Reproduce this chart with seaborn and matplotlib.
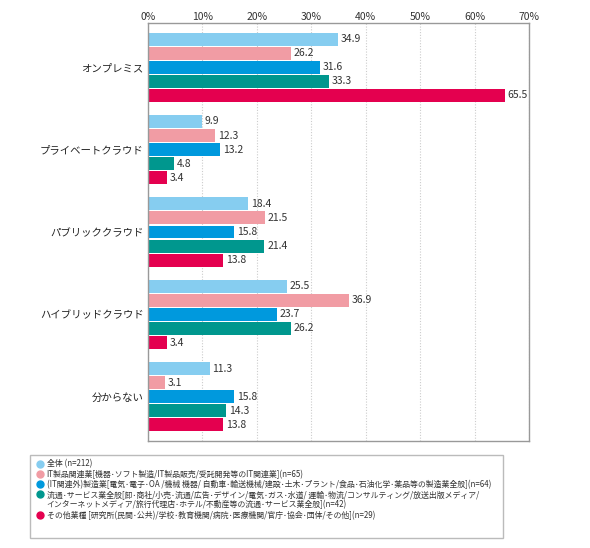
import matplotlib
matplotlib.use("Agg")
import matplotlib.pyplot as plt
from matplotlib.lines import Line2D
from matplotlib.patches import Rectangle
import seaborn as sns
import pandas as pd

categories = ["オンプレミス", "プライベートクラウド", "パブリッククラウド", "ハイブリッドクラウド", "分からない"]
series_names = [
    "全体 (n=212)",
    "IT製品関連業[機器･ソフト製造/IT製品販売/受託開発等のIT関連業](n=65)",
    "(IT関連外)製造業[電気･電子･OA /機械 機器/ 自動車･輸送機械/建設･土木･プラント/食品･石油化学･薬品等の製造業全般](n=64)",
    "流通･サービス業全般[卸･商社/小売･流通/広告･デザイン/電気･ガス･水道/ 運輸･物流/コンサルティング/放送出版メディア/\nインターネットメディア/旅行代理店･ホテル/不動産等の流通･サービス業全般](n=42)",
    "その他業種 [研究所(民間･公共)/学校･教育機関/病院･医療機関/官庁･協会･団体/その他](n=29)",
]
s_all = [34.9, 9.9, 18.4, 25.5, 11.3]
s_it = [26.2, 12.3, 21.5, 36.9, 3.1]
s_mfg = [31.6, 13.2, 15.8, 23.7, 15.8]
s_dist = [33.3, 4.8, 21.4, 26.2, 14.3]
s_other = [65.5, 3.4, 13.8, 3.4, 13.8]
x_ticks = [0, 10, 20, 30, 40, 50, 60, 70]
x_ticklabels = ["0%", "10%", "20%", "30%", "40%", "50%", "60%", "70%"]

colors = ["#86CDF0", "#F19CA4", "#0099DD", "#00978E", "#E4004F"]

series_values = [s_all, s_it, s_mfg, s_dist, s_other]
rows = []
for name, vals in zip(series_names, series_values):
    for c, v in zip(categories, vals):
        rows.append({"cat": c, "series": name, "value": v})
df = pd.DataFrame(rows)

sns.set_style("white")
plt.rcParams['font.family'] = ['Noto Sans CJK JP', 'DejaVu Sans']

fig = plt.figure(figsize=(5.9, 5.48), dpi=100)
ax = fig.add_axes([148/590, 1 - 441/548, (529-148)/590, (441-23)/548])

sns.barplot(data=df, y="cat", x="value", hue="series", order=categories,
            hue_order=series_names, palette=colors, orient="h",
            width=0.856, gap=0.08, legend=False, ax=ax, saturation=1,
            linewidth=0, edgecolor="none")

for cont in ax.containers:
    ax.bar_label(cont, fmt="%.1f", padding=2, fontsize=7.5, color="#333333")

ax.set_xlim(0, 70)
ax.set_ylim(4.537, -0.537)
ax.set_xticks(x_ticks)
ax.set_xticklabels(x_ticklabels)
ax.xaxis.tick_top()
ax.tick_params(axis="x", length=0, labelsize=7.5, colors="#333333", pad=1)
ax.tick_params(axis="y", length=0, labelsize=7.5, colors="#222222", pad=3)
ax.set_xlabel("")
ax.set_ylabel("")
ax.grid(axis="x", linestyle=(0, (1, 1.5)), color="#cccccc", linewidth=0.8)
ax.set_axisbelow(True)
for sp in ax.spines.values():
    sp.set_visible(True)
    sp.set_color("#999999")
    sp.set_linewidth(1.0)

# legend: split the two-line label so the marker sits on the first line
handles = []
labels = []
for c, name in zip(colors, series_names):
    parts = name.split("\n")
    handles.append(Line2D([0], [0], marker="o", linestyle="none", markersize=5,
                          markerfacecolor=c, markeredgecolor=c))
    labels.append(parts[0])
    for extra in parts[1:]:
        handles.append(Line2D([0], [0], marker="none", linestyle="none"))
        labels.append(extra)

fig.patches.append(Rectangle((30/590, 1 - 538/548), 473/590, 83/548,
                             transform=fig.transFigure, facecolor="white",
                             edgecolor="#bbbbbb", linewidth=1.0, zorder=0))
leg = fig.legend(handles, labels, loc="upper left",
                 bbox_to_anchor=(34/590, 1 - 457/548),
                 fontsize=5.7, frameon=False,
                 handlelength=0.8, handletextpad=0.5, labelspacing=0.14,
                 borderpad=0.3, borderaxespad=0)
for t in leg.get_texts():
    t.set_color("#333333")

fig.savefig("out.png", dpi=100)
